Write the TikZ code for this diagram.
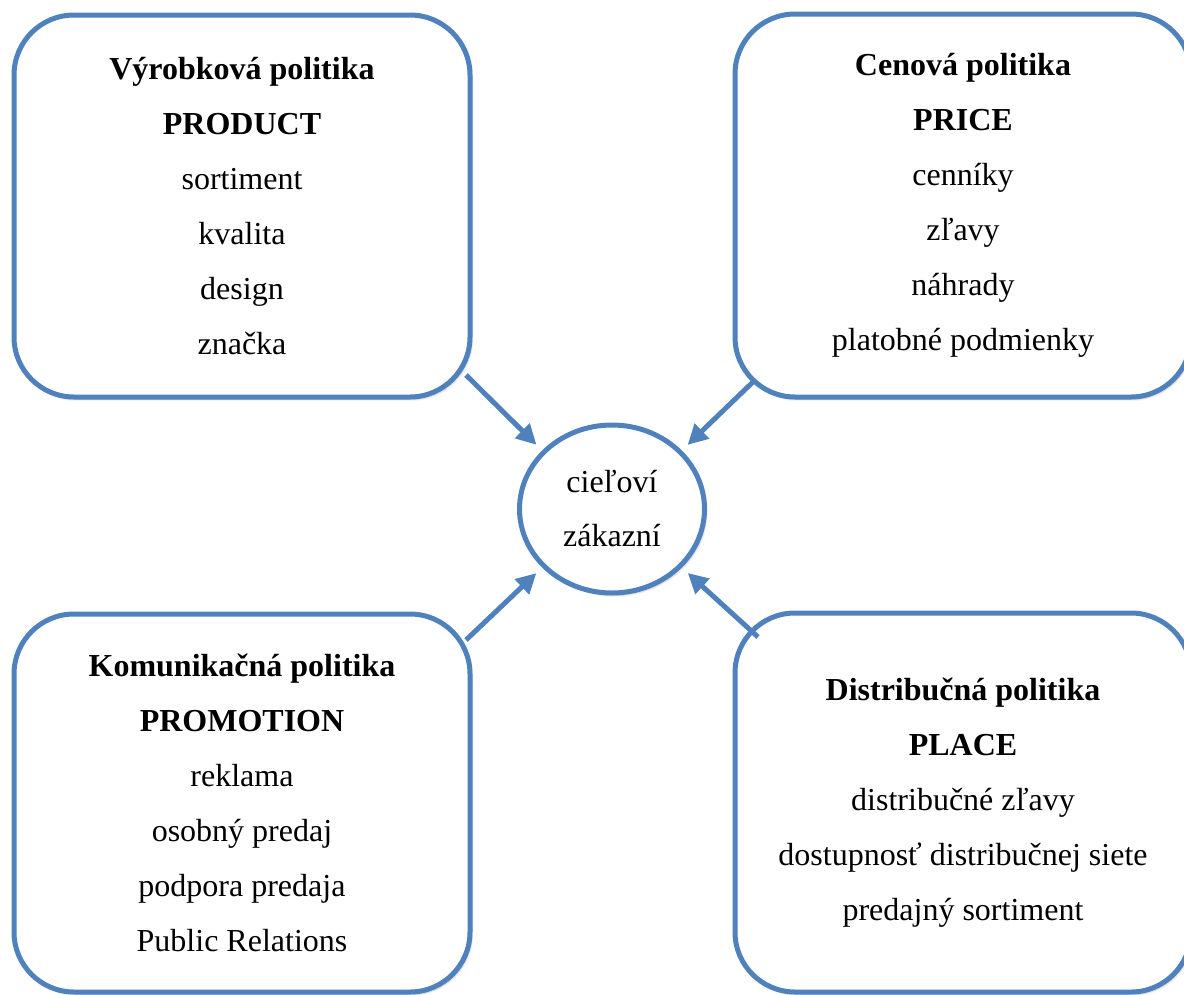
\documentclass[tikz,border=0pt]{standalone}
\usepackage{fontspec}
\setmainfont{Liberation Serif}
\usetikzlibrary{arrows.meta,shapes.geometric,shadows.blur}
\definecolor{ofblue}{HTML}{4F81BD}
\tikzset{
  box/.style={draw=ofblue, line width=5pt, fill=white, rounded corners=60pt,
    minimum width=456pt, align=center, inner sep=0pt,
    font=\fontsize{32}{55}\selectfont,
    blur shadow={shadow xshift=2pt, shadow yshift=-2.5pt, shadow opacity=22, shadow blur steps=6}},
  target/.style={draw=ofblue, line width=5pt, fill=white, ellipse,
    minimum width=185pt, minimum height=168pt, align=center, inner sep=0pt,
    font=\fontsize{32}{54}\selectfont,
    blur shadow={shadow xshift=2pt, shadow yshift=-2.5pt, shadow opacity=22, shadow blur steps=6}},
  arr/.style={draw=ofblue, line width=5pt, line cap=butt,
    -{Triangle[length=20pt,width=20pt]}, shorten >=8pt}
}
\begin{document}
\begin{tikzpicture}[x=1pt,y=-1pt]
\useasboundingbox (0,0) rectangle (1184,994);
\node[box, minimum height=382pt] (prod) at (242,206) {\textbf{Výrobková politika}\\\textbf{PRODUCT}\\sortiment\\kvalita\\design\\značka};
\node[box, minimum height=383pt] (price) at (963,205.5) {\textbf{Cenová politika}\\\textbf{PRICE}\\cenníky\\zľavy\\náhrady\\platobné podmienky};
\node[box, minimum height=378pt] (prom) at (242,803) {\textbf{Komunikačná politika}\\\textbf{PROMOTION}\\reklama\\osobný predaj\\podpora predaja\\Public Relations};
\node[box, minimum height=379pt] (place) at (963,802.5) {\textbf{Distribučná politika}\\\textbf{PLACE}\\distribučné zľavy\\dostupnosť distribučnej siete\\predajný sortiment};
\node[target] (cust) at (612,509) {cieľoví\\zákazní};
\coordinate (t1) at (466,375);
\coordinate (t2) at (755,380);
\coordinate (t3) at (466,640);
\coordinate (t4) at (758,637);
\draw[arr] (t1) -- (cust.140);
\draw[arr] (t2) -- (cust.40);
\draw[arr] (t3) -- (cust.220);
\draw[arr] (t4) -- (cust.320);
\end{tikzpicture}
\end{document}
